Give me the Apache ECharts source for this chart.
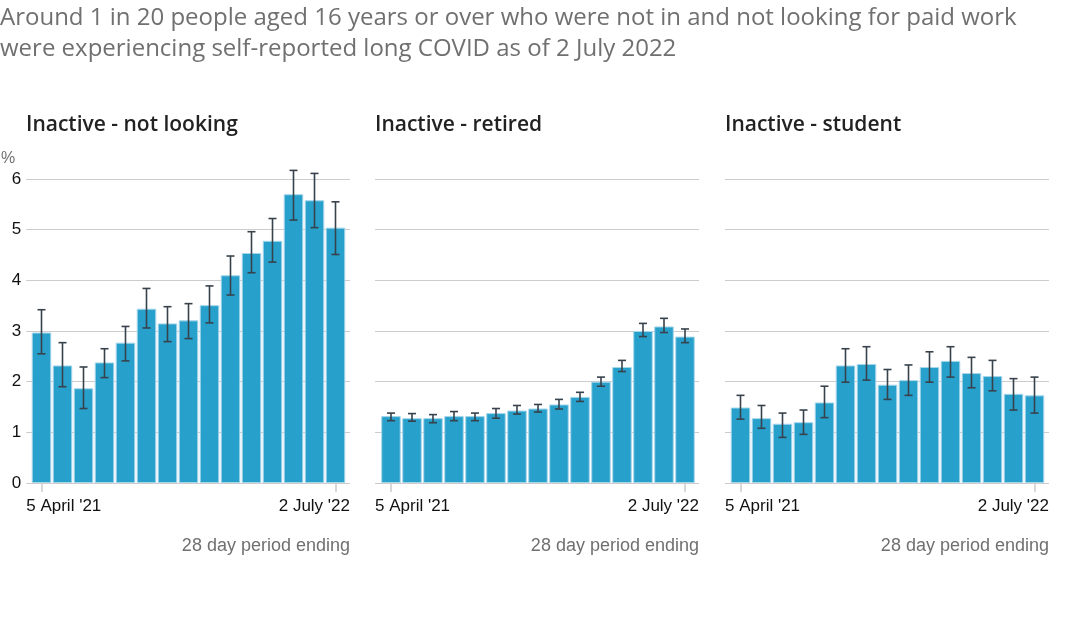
<!DOCTYPE html>
<html>
<head>
<meta charset="utf-8">
<script src="https://cdn.jsdelivr.net/npm/echarts@6/dist/echarts.min.js"></script>
<style>
  html, body { margin: 0; padding: 0; background: #fff; }
  #chart { width: 1065px; height: 634px; }
</style>
</head>
<body>
<div id="chart"></div>
<script>
// ---- Data ----
const categories = ["5 April '21", "2 May '21", "6 June '21", "4 July '21", "1 Aug '21", "5 Sep '21", "2 Oct '21", "31 Oct '21", "27 Nov '21", "2 Jan '22", "30 Jan '22", "5 Mar '22", "2 Apr '22", "1 May '22", "2 July '22"];
const xTickLabels = ["5 April '21", "2 July '22"];
const panelTitles = ["Inactive - not looking", "Inactive - retired", "Inactive - student"];

const notLooking     = [2.97, 2.32, 1.87, 2.38, 2.77, 3.44, 3.15, 3.21, 3.51, 4.10, 4.54, 4.78, 5.70, 5.58, 5.04];
const notLookingLow  = [2.55, 1.90, 1.47, 2.08, 2.41, 3.06, 2.79, 2.85, 3.16, 3.71, 4.15, 4.36, 5.19, 5.04, 4.51];
const notLookingHigh = [3.42, 2.77, 2.29, 2.65, 3.09, 3.84, 3.48, 3.54, 3.89, 4.48, 4.96, 5.22, 6.17, 6.11, 5.55];

const retired     = [1.32, 1.28, 1.28, 1.32, 1.32, 1.38, 1.43, 1.47, 1.55, 1.70, 2.00, 2.29, 3.00, 3.09, 2.89];
const retiredLow  = [1.23, 1.22, 1.19, 1.23, 1.23, 1.28, 1.36, 1.40, 1.46, 1.61, 1.91, 2.20, 2.89, 2.97, 2.77];
const retiredHigh = [1.38, 1.37, 1.35, 1.41, 1.38, 1.47, 1.53, 1.55, 1.65, 1.79, 2.09, 2.42, 3.15, 3.25, 3.04];

const student     = [1.49, 1.28, 1.17, 1.20, 1.59, 2.32, 2.35, 1.94, 2.03, 2.29, 2.41, 2.17, 2.11, 1.76, 1.73];
const studentLow  = [1.26, 1.08, 0.90, 0.96, 1.29, 1.99, 2.03, 1.65, 1.73, 1.99, 2.09, 1.88, 1.82, 1.44, 1.38];
const studentHigh = [1.73, 1.53, 1.38, 1.44, 1.91, 2.65, 2.69, 2.24, 2.33, 2.59, 2.69, 2.48, 2.42, 2.06, 2.09];

const panels = [
  { values: notLooking, low: notLookingLow, high: notLookingHigh },
  { values: retired, low: retiredLow, high: retiredHigh },
  { values: student, low: studentLow, high: studentHigh }
];

// ---- Layout ----
const bgLefts = [26, 375, 725];
const fgLefts = [31, 380.5, 730];
const gridTop = 179, gridHeight = 304, bgWidth = 324, fgWidth = 315;

const barColor = '#27a0cc';
const errColor = '#37424c';
const gridColor = '#cccccc';
const labelFont = '"Liberation Sans", Arial, sans-serif';
const titleFont = '"Open Sans", sans-serif';

const grids = [], xAxes = [], yAxes = [], series = [];

panels.forEach((p, k) => {
  const bgIdx = k * 2, fgIdx = k * 2 + 1;
  grids.push({ left: bgLefts[k], top: gridTop, width: bgWidth, height: gridHeight, containLabel: false });
  grids.push({ left: fgLefts[k], top: gridTop, width: fgWidth, height: gridHeight, containLabel: false });

  // background axes: gridlines, y labels, first/last tick labels
  xAxes.push({
    gridIndex: bgIdx, type: 'category', data: xTickLabels, boundaryGap: false,
    axisLine: { show: false }, axisTick: { show: false },
    axisLabel: {
      show: true, margin: 15, color: '#111', fontSize: 17, fontFamily: labelFont,
      alignMinLabel: 'left', alignMaxLabel: 'right', interval: 0
    },
    name: '28 day period ending', nameLocation: 'end', nameGap: 0,
    nameTextStyle: { color: '#707070', fontSize: 18, fontFamily: labelFont, align: 'right', verticalAlign: 'top', padding: [54, 0, 0, 0] }
  });
  yAxes.push({
    gridIndex: bgIdx, type: 'value', min: 0, max: 6, interval: 1,
    axisLine: { show: false }, axisTick: { show: false },
    splitLine: { show: true, lineStyle: { color: gridColor, width: 1 } },
    axisLabel: { show: k === 0, margin: 5, color: '#111', fontSize: 17, fontFamily: labelFont },
    name: k === 0 ? '%' : '', nameLocation: 'end', nameGap: 12,
    nameTextStyle: { color: '#707070', fontSize: 16, fontFamily: labelFont, align: 'right', padding: [0, 11, 0, 0] }
  });

  // foreground axes: bars + error bars
  xAxes.push({
    gridIndex: fgIdx, type: 'category', data: categories, boundaryGap: true,
    axisLine: { show: false },
    axisTick: {
      show: true, alignWithLabel: true, length: 9,
      interval: (i) => i === 0 || i === categories.length - 1,
      lineStyle: { color: gridColor, width: 1.5 }
    },
    axisLabel: { show: false }
  });
  yAxes.push({
    gridIndex: fgIdx, type: 'value', min: 0, max: 6, interval: 1,
    show: false, splitLine: { show: false }
  });

  series.push({
    type: 'bar', xAxisIndex: fgIdx, yAxisIndex: fgIdx,
    data: p.values, barCategoryGap: '7%',
    itemStyle: { color: barColor, borderColor: '#a6d6ea', borderWidth: 1 },
    animation: false, z: 2
  });
  series.push({
    type: 'custom', xAxisIndex: fgIdx, yAxisIndex: fgIdx,
    data: p.values.map((v, i) => [i, p.low[i], p.high[i]]),
    encode: { x: 0, y: [1, 2] },
    renderItem: function (params, api) {
      const x = api.value(0);
      const lo = api.coord([x, api.value(1)]);
      const hi = api.coord([x, api.value(2)]);
      const hw = 4;
      const st = { stroke: errColor, lineWidth: 1.6 };
      return {
        type: 'group',
        children: [
          { type: 'line', shape: { x1: lo[0], y1: lo[1], x2: hi[0], y2: hi[1] }, style: st },
          { type: 'line', shape: { x1: lo[0] - hw, y1: lo[1], x2: lo[0] + hw, y2: lo[1] }, style: st },
          { type: 'line', shape: { x1: hi[0] - hw, y1: hi[1], x2: hi[0] + hw, y2: hi[1] }, style: st }
        ]
      };
    },
    animation: false, z: 3
  });
});

const titles = [{
  text: 'Around 1 in 20 people aged 16 years or over who were not in and not looking for paid work\nwere experiencing self-reported long COVID as of 2 July 2022',
  left: 0, top: 3, padding: 0,
  textStyle: { color: '#707070', fontSize: 24, fontWeight: 'normal', fontFamily: titleFont, lineHeight: 31 }
}];
panelTitles.forEach((t, k) => {
  titles.push({
    text: t, left: bgLefts[k], top: 111, padding: 0,
    textStyle: { color: '#222', fontSize: 21, fontWeight: 600, fontFamily: titleFont, lineHeight: 28 }
  });
});

const chart = echarts.init(document.getElementById('chart'), null, { renderer: 'canvas' });
chart.setOption({
  animation: false,
  backgroundColor: '#ffffff',
  title: titles,
  grid: grids,
  xAxis: xAxes,
  yAxis: yAxes,
  series: series
});
</script>
</body>
</html>
